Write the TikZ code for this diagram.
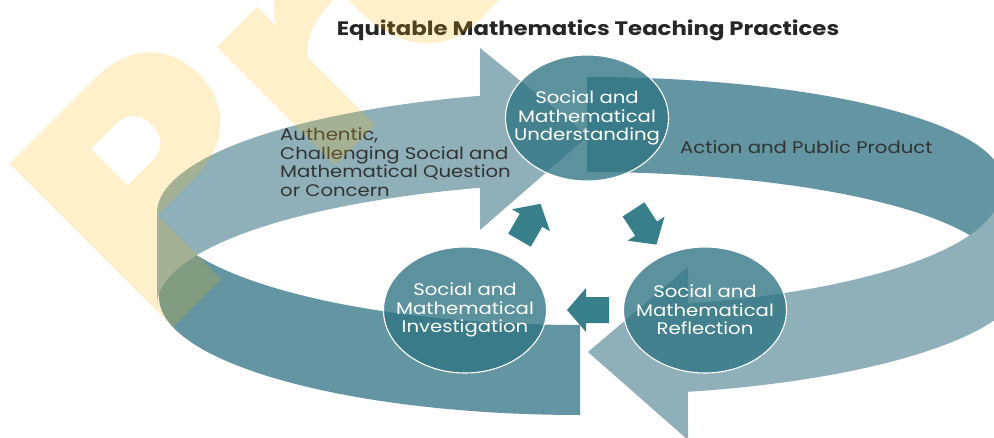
\documentclass[tikz,border=0pt]{standalone}
\usepackage{fontspec}
\setmainfont{Poppins}[FakeStretch=1.17]
\usetikzlibrary{shapes.geometric,calc}

\definecolor{bandlight}{HTML}{8FB0B9}
\definecolor{banddark}{HTML}{6395A3}
\definecolor{discfill}{HTML}{2F7483}
\definecolor{arrowfill}{HTML}{367F8B}
\definecolor{labelgray}{HTML}{333333}
\definecolor{titlegray}{HTML}{262626}
\definecolor{wmyellow}{HTML}{FFB800}

\tikzset{
  blockarrow/.pic={
    \fill[arrowfill] (-21,-13) -- (2,-13) -- (2,-22) -- (21,0)
      -- (2,22) -- (2,13) -- (-21,13) -- cycle;
  }
}

\begin{document}
\begin{tikzpicture}[x=1pt,y=-1pt,
  lightband/.style={fill=bandlight},
  darkband/.style={fill=banddark},
  disc/.style={ellipse, minimum width=163pt, minimum height=126pt,
    inner sep=0pt, fill=discfill, fill opacity=0.78,
    draw=white, line width=1.1pt},
  disctext/.style={text=white, align=center, inner sep=0pt,
    font=\fontsize{16.8}{18.5}\selectfont},
  bandlabel/.style={text=labelgray, align=left, inner sep=0pt,
    font=\fontsize{16.8}{18.5}\selectfont},
  wm/.style={fill=wmyellow, fill opacity=0.2}]

\useasboundingbox (0,0) rectangle (994,437);
\fill[white] (0,0) rectangle (994,437);
\clip (0,0) rectangle (994,437);

% back-right band (dark)
\fill[darkband]
  plot[domain=270:360,samples=80] ({587+415*cos(\x)},{180+103*sin(\x)})
  -- plot[domain=360:270,samples=80] ({587+415*cos(\x)},{275+103*sin(\x)})
  -- cycle;

% front-left band (dark)
\fill[darkband]
  plot[domain=90:180,samples=80] ({580+421*cos(\x)},{206+119*sin(\x)})
  -- plot[domain=180:90,samples=80] ({580+421*cos(\x)},{297+118*sin(\x)})
  -- cycle;

% back-left band (light) ending in an arrow head
\fill[lightband]
  plot[domain=180:252.4,samples=80] ({620+463*cos(\x)},{213+123*sin(\x)})
  -- (480,48) -- (588,136) -- (480,230)
  -- plot[domain=252.4:180,samples=80] ({620+463*cos(\x)},{305+123*sin(\x)})
  -- cycle;

% front-right band (light) ending in an arrow head
\fill[lightband]
  plot[domain=0:75.84,samples=80] ({587+413*cos(\x)},{192+115*sin(\x)})
  -- (688,267) -- (588,352) -- (688,440)
  -- plot[domain=76.73:0,samples=80] ({587+440*cos(\x)},{275+120*sin(\x)})
  -- cycle;

% title and band labels
\node[font=\bfseries\fontsize{19.5}{21}\selectfont, text=titlegray, anchor=base, inner sep=0pt]
  (title) at (588,35) {Equitable Mathematics Teaching Practices};
\node[bandlabel, anchor=north west] (question) at (280,128)
  {Authentic,\\Challenging Social and\\Mathematical Question\\or Concern};
\node[bandlabel, anchor=base west] (action) at (680,153) {Action and Public Product};

% the three stages
\node[disc] (und) at (587,118) {};
\node[disc] (ref) at (705,310) {};
\node[disc] (inv) at (465,310) {};
\node[disctext] (undtext) at (und.center) {Social and\\Mathematical\\Understanding};
\node[disctext] (reftext) at (ref.center) {Social and\\Mathematical\\Reflection};
\node[disctext] (invtext) at (inv.center) {Social and\\Mathematical\\Investigation};

% cycle arrows between the stages
\pic[rotate=60] at ($(inv)!0.5!(und)+(4,8)$) {blockarrow};
\pic[rotate=-57] at ($(und)!0.5!(ref)+(-1,13)$) {blockarrow};
\pic[rotate=180] at ($(ref)!0.5!(inv)+(3,0)$) {blockarrow};

% yellow stamp lettering
\coordinate (wmo) at (173,327);
\begin{scope}[shift={(wmo)}, x={(0.7071pt,0.7071pt)}, y={(-0.7071pt,0.7071pt)}]
  \fill[wm, even odd rule]
    (0,0) -- (0,231) -- (120,231) .. controls (172,231) and (197,200) .. (197,160)
    .. controls (197,118) and (168,90) .. (118,90) -- (68,90) -- (68,0) -- cycle
    (68,132) -- (68,184) -- (103,184) .. controls (120,184) and (128,173) .. (128,158)
    .. controls (128,143) and (120,132) .. (103,132) -- cycle;
  \fill[wm] (229,0) -- (229,167) -- (286,167) -- (286,140)
    .. controls (298,162) and (320,172) .. (350,172) -- (350,118)
    .. controls (320,118) and (298,112) .. (286,95) -- (286,0) -- cycle;
  \fill[wm] (355,100) .. controls (355,32) and (385,0) .. (440,0)
    .. controls (490,0) and (510,12) .. (530,32) -- (530,220) -- (355,220) -- cycle;
\end{scope}
\end{tikzpicture}
\end{document}
